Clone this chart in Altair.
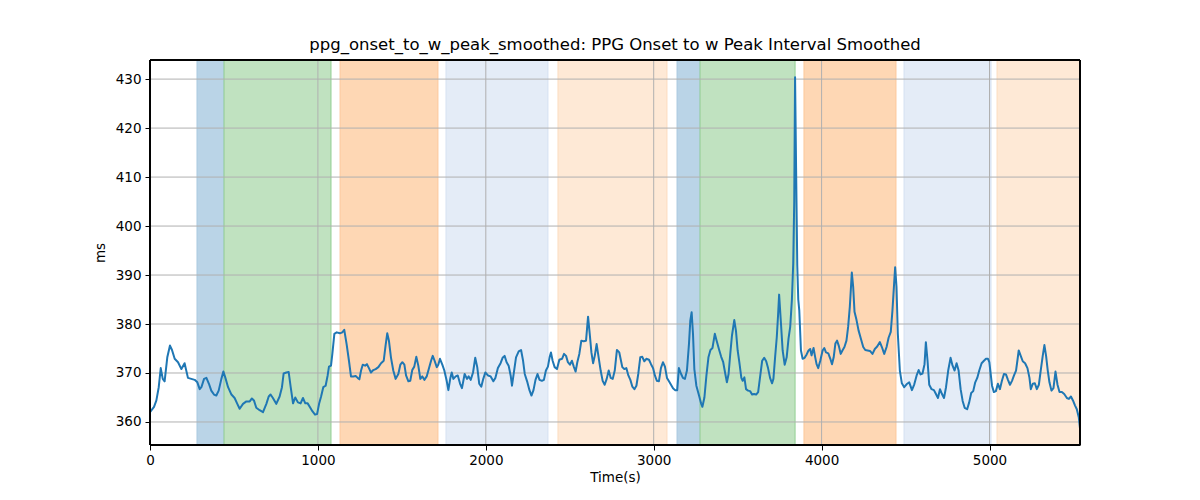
import altair as alt
import pandas as pd

# ---- data ----
time_s = [0, 24, 38, 52, 64, 76, 87, 103, 119, 131, 147, 167, 187, 206, 226, 246, 266, 282, 296, 306,
          322, 336, 351, 365, 381, 395, 409, 425, 437, 449, 465, 485, 504, 520, 534, 554, 574, 594, 607, 619,
          633, 653, 673, 693, 707, 718, 732, 752, 772, 786, 796, 812, 826, 838, 852, 865, 881, 897, 911, 925,
          939, 953, 967, 983, 995, 1007, 1019, 1032, 1046, 1058, 1066, 1078, 1086, 1098, 1112, 1131, 1145, 1157, 1171, 1185,
          1197, 1211, 1225, 1237, 1247, 1257, 1267, 1281, 1292, 1304, 1316, 1330, 1344, 1360, 1376, 1392, 1403, 1413, 1423, 1435,
          1449, 1463, 1479, 1491, 1503, 1515, 1525, 1539, 1550, 1562, 1574, 1586, 1598, 1610, 1622, 1634, 1648, 1662, 1674, 1684,
          1694, 1708, 1717, 1727, 1741, 1753, 1767, 1777, 1789, 1797, 1807, 1821, 1833, 1847, 1858, 1874, 1888, 1898, 1910, 1924,
          1937, 1949, 1961, 1973, 1985, 1997, 2013, 2029, 2045, 2057, 2072, 2088, 2100, 2112, 2124, 2136, 2148, 2156, 2166, 2180,
          2196, 2210, 2222, 2232, 2246, 2260, 2272, 2284, 2296, 2308, 2320, 2334, 2346, 2358, 2370, 2380, 2388, 2398, 2410, 2424,
          2438, 2454, 2466, 2478, 2489, 2501, 2513, 2525, 2535, 2545, 2557, 2569, 2583, 2597, 2609, 2619, 2629, 2639, 2649, 2660,
          2672, 2684, 2696, 2708, 2720, 2732, 2744, 2756, 2768, 2781, 2795, 2807, 2813, 2825, 2837, 2849, 2861, 2873, 2885, 2897,
          2908, 2920, 2932, 2944, 2956, 2972, 2984, 2996, 3007, 3019, 3031, 3043, 3055, 3067, 3079, 3091, 3103, 3115, 3127, 3140,
          3150, 3162, 3174, 3186, 3198, 3210, 3218, 3226, 3234, 3242, 3254, 3270, 3282, 3290, 3302, 3314, 3326, 3338, 3350, 3364,
          3374, 3390, 3402, 3414, 3426, 3436, 3446, 3456, 3466, 3480, 3490, 3500, 3510, 3522, 3530, 3540, 3550, 3562, 3574, 3586,
          3598, 3610, 3622, 3634, 3646, 3658, 3670, 3681, 3693, 3705, 3713, 3723, 3733, 3741, 3747, 3758, 3768, 3780, 3792, 3803,
          3813, 3823, 3831, 3837, 3842, 3848, 3855, 3861, 3867, 3877, 3887, 3899, 3911, 3922, 3932, 3940, 3952, 3962, 3970, 3980,
          3992, 4006, 4016, 4026, 4040, 4052, 4062, 4072, 4082, 4092, 4102, 4114, 4124, 4136, 4148, 4158, 4168, 4180, 4188, 4196,
          4208, 4220, 4234, 4248, 4260, 4274, 4288, 4303, 4317, 4331, 4347, 4359, 4373, 4387, 4399, 4412, 4422, 4432, 4438, 4446,
          4454, 4466, 4478, 4492, 4506, 4522, 4538, 4552, 4566, 4578, 4589, 4601, 4613, 4621, 4631, 4641, 4655, 4669, 4681, 4693,
          4705, 4717, 4729, 4741, 4754, 4768, 4780, 4792, 4804, 4816, 4828, 4840, 4852, 4867, 4879, 4891, 4903, 4915, 4927, 4939,
          4953, 4967, 4979, 4991, 4999, 5007, 5015, 5026, 5038, 5050, 5062, 5074, 5086, 5098, 5110, 5122, 5134, 5146, 5158, 5166,
          5174, 5186, 5198, 5212, 5226, 5238, 5246, 5258, 5270, 5282, 5294, 5305, 5317, 5327, 5337, 5347, 5357, 5369, 5381, 5393,
          5405, 5417, 5431, 5445, 5461, 5473, 5485, 5497, 5509, 5520, 5532, 5539]

ms_vals = [362.0, 363.1, 364.4, 367.1, 371.0, 368.8, 368.3, 373.2, 375.6, 374.7, 372.9, 372.2, 370.8, 372.0, 369.0, 368.8, 368.6, 368.1, 366.7, 367.1,
           368.8, 369.0, 367.8, 366.4, 365.6, 365.4, 366.4, 368.8, 370.3, 369.0, 367.1, 365.6, 364.9, 363.7, 362.7, 363.7, 364.2, 364.2, 364.8, 364.4,
           362.9, 362.4, 362.0, 363.7, 365.2, 365.6, 364.9, 363.7, 365.2, 367.1, 369.9, 370.1, 370.2, 367.1, 363.8, 365.0, 364.0, 363.8, 364.9, 363.8,
           363.8, 363.0, 362.2, 361.5, 361.6, 363.7, 365.2, 367.1, 367.4, 369.5, 371.3, 371.5, 373.9, 378.0, 378.3, 378.1, 378.3, 378.8, 375.9, 372.5,
           369.3, 369.3, 369.4, 369.0, 368.7, 370.5, 371.7, 371.5, 371.8, 371.0, 370.1, 370.6, 370.8, 371.2, 372.0, 372.5, 375.6, 378.1, 376.6, 373.2,
           370.5, 368.8, 369.8, 371.7, 372.2, 371.7, 369.5, 368.3, 368.4, 370.6, 371.3, 373.3, 371.5, 368.8, 369.3, 368.6, 369.3, 371.0, 372.5, 373.5,
           372.6, 371.2, 371.7, 372.9, 371.7, 370.5, 368.4, 366.5, 369.0, 370.1, 368.8, 369.3, 369.5, 367.8, 366.9, 369.8, 368.8, 369.3, 368.6, 370.1,
           373.1, 371.2, 367.8, 367.2, 368.8, 370.1, 369.5, 369.3, 368.3, 369.0, 371.0, 372.0, 373.1, 373.5, 372.2, 371.5, 369.5, 367.4, 369.8, 373.2,
           374.4, 374.7, 372.5, 369.8, 368.3, 366.5, 365.4, 366.5, 368.6, 369.8, 368.6, 368.4, 368.6, 370.5, 371.3, 373.2, 374.2, 372.5, 371.2, 370.8,
           372.7, 372.9, 373.9, 373.5, 372.2, 371.7, 372.5, 371.2, 370.3, 372.2, 373.9, 376.6, 376.5, 376.6, 381.5, 378.0, 374.2, 372.0, 373.5, 375.9,
           373.2, 370.5, 368.4, 367.6, 368.8, 370.5, 369.0, 368.8, 370.5, 374.7, 374.2, 372.2, 371.2, 370.8, 371.0, 369.5, 368.6, 367.2, 366.7, 367.4,
           369.8, 373.2, 373.3, 372.4, 372.9, 372.7, 371.8, 371.0, 369.5, 368.4, 368.3, 371.0, 372.2, 371.3, 369.0, 368.3, 367.6, 366.9, 366.5, 366.5,
           371.0, 369.9, 369.0, 368.8, 370.5, 375.9, 380.7, 382.4, 378.0, 370.8, 367.4, 365.4, 363.8, 363.1, 365.0, 369.5, 373.2, 374.7, 375.1, 378.0,
           376.7, 374.7, 373.3, 372.2, 369.9, 368.1, 369.8, 373.9, 377.6, 380.8, 378.6, 374.6, 372.2, 369.0, 368.4, 369.1, 366.7, 366.4, 366.3, 365.6,
           365.7, 365.6, 366.1, 369.3, 372.5, 373.1, 372.4, 371.0, 369.0, 367.9, 368.8, 373.2, 377.3, 382.0, 386.0, 380.1, 374.6, 371.7, 373.2, 377.0,
           379.4, 384.9, 392.4, 405.0, 430.4, 412.0, 392.0, 385.0, 382.8, 374.6, 372.9, 373.1, 373.8, 374.6, 374.9, 373.6, 375.1, 373.2, 371.8, 371.0,
           372.5, 374.6, 375.1, 374.2, 374.0, 372.9, 371.8, 373.2, 376.0, 376.6, 375.6, 373.9, 374.6, 375.3, 376.6, 379.4, 383.5, 390.5, 387.6, 382.5,
           380.8, 378.7, 377.0, 375.3, 374.7, 374.6, 374.5, 373.9, 374.9, 375.4, 376.3, 375.3, 373.9, 375.3, 377.2, 378.4, 382.8, 388.3, 391.6, 387.6,
           378.0, 370.5, 367.9, 367.1, 367.7, 368.1, 366.5, 367.7, 369.5, 370.6, 369.7, 369.9, 371.8, 376.3, 372.5, 367.6, 366.7, 366.5, 365.7, 364.9,
           366.7, 365.7, 364.9, 367.1, 370.5, 373.1, 371.5, 370.5, 372.0, 370.5, 366.7, 364.3, 362.9, 362.6, 364.0, 365.9, 366.3, 368.1, 369.0, 370.5,
           372.0, 372.5, 372.9, 372.9, 372.2, 369.8, 367.4, 366.1, 366.3, 367.8, 366.7, 368.4, 369.8, 369.7, 368.6, 367.6, 368.4, 369.5, 370.5, 372.5,
           374.6, 373.5, 372.4, 372.0, 371.0, 369.0, 366.7, 367.8, 367.9, 366.7, 367.6, 370.5, 373.5, 375.7, 373.5, 370.5, 368.1, 366.4, 366.9, 370.3,
           367.6, 366.1, 366.1, 365.7, 364.9, 364.7, 365.2, 364.4, 363.4, 362.6, 360.9, 358.7]

band_start = [280, 441, 1132, 1763, 2430, 3139, 3276, 3895, 4491, 5045]
band_end = [441, 1078, 1715, 2370, 3079, 3276, 3842, 4443, 5009, 5539]
band_kind = ["A", "B", "C", "D", "E", "A", "B", "C", "D", "E"]

kind_names = ["A", "B", "C", "D", "E"]
kind_fill = ["#bad4e7", "#c0e2c0", "#fed7b4", "#e4ecf7", "#fee9d6"]
kind_edge = ["#a9c9e0", "#93cf93", "#fcc89c", "#d5e1f2", "#fcdcbf"]

x_ticks = [0, 1000, 2000, 3000, 4000, 5000]
y_ticks = [360, 370, 380, 390, 400, 410, 420, 430]

X_DOMAIN = [0, 5539]
Y_DOMAIN = [355.3, 433.9]

line_df = pd.DataFrame({"t": time_s, "ms": ms_vals})
band_df = pd.DataFrame({"start": band_start, "end": band_end, "kind": band_kind})
xt_df = pd.DataFrame({"v": x_ticks})
yt_df = pd.DataFrame({"v": y_ticks})

FONT = "DejaVu Sans"

xscale = alt.Scale(domain=X_DOMAIN, nice=False, zero=False)
yscale = alt.Scale(domain=Y_DOMAIN, nice=False, zero=False)

x_axis = alt.Axis(values=x_ticks, title="Time(s)", grid=False, format="d",
                  labelFont=FONT, labelFontSize=13.5, labelColor="black",
                  labelFlush=False, labelOverlap=False,
                  titleFont=FONT, titleFontSize=13.5, titleFontWeight="normal", titleColor="black",
                  tickColor="black", tickSize=5, domainColor="black", labelPadding=3, titlePadding=4)
y_axis = alt.Axis(values=y_ticks, title="ms", grid=False, format="d",
                  labelFont=FONT, labelFontSize=13.5, labelColor="black",
                  labelFlush=False, labelOverlap=False,
                  titleFont=FONT, titleFontSize=13.5, titleFontWeight="normal", titleColor="black",
                  tickColor="black", tickSize=5, domainColor="black", labelPadding=4, titlePadding=8)

bands = alt.Chart(band_df).mark_rect(strokeWidth=1).encode(
    x=alt.X("start:Q", scale=xscale, axis=x_axis),
    x2="end:Q",
    y=alt.value(0),
    y2=alt.value(385),
    fill=alt.Fill("kind:N", scale=alt.Scale(domain=kind_names, range=kind_fill), legend=None),
    stroke=alt.Stroke("kind:N", scale=alt.Scale(domain=kind_names, range=kind_edge), legend=None),
)

xgrid = alt.Chart(xt_df).mark_rule(color="#b0b0b0", strokeWidth=1).encode(
    x=alt.X("v:Q", scale=xscale, axis=x_axis)
)
ygrid = alt.Chart(yt_df).mark_rule(color="#b0b0b0", strokeWidth=1).encode(
    y=alt.Y("v:Q", scale=yscale, axis=y_axis)
)

line = alt.Chart(line_df).mark_line(color="#1f77b4", strokeWidth=2, clip=True,
                                    strokeJoin="round", strokeCap="round").encode(
    x=alt.X("t:Q", scale=xscale, axis=x_axis),
    y=alt.Y("ms:Q", scale=yscale, axis=y_axis),
)

frame = alt.Chart(xt_df).mark_rect(fill=None, stroke="black", strokeWidth=1).encode(
    x=alt.value(0), x2=alt.value(930), y=alt.value(0), y2=alt.value(385)
)

chart = alt.layer(bands, xgrid, ygrid, line, frame).properties(
    width=930,
    height=385,
    title=alt.TitleParams("ppg_onset_to_w_peak_smoothed: PPG Onset to w Peak Interval Smoothed",
                          font=FONT, fontSize=16.5, fontWeight="normal", color="black",
                          anchor="middle", offset=6),
    padding={"left": 142, "top": 52, "right": 20, "bottom": 40},
    autosize=alt.AutoSizeParams(type="none"),
).configure_view(stroke="black", strokeWidth=1).configure(background="white")

chart.save("out.html", embed_options={"renderer": "svg", "actions": False})
